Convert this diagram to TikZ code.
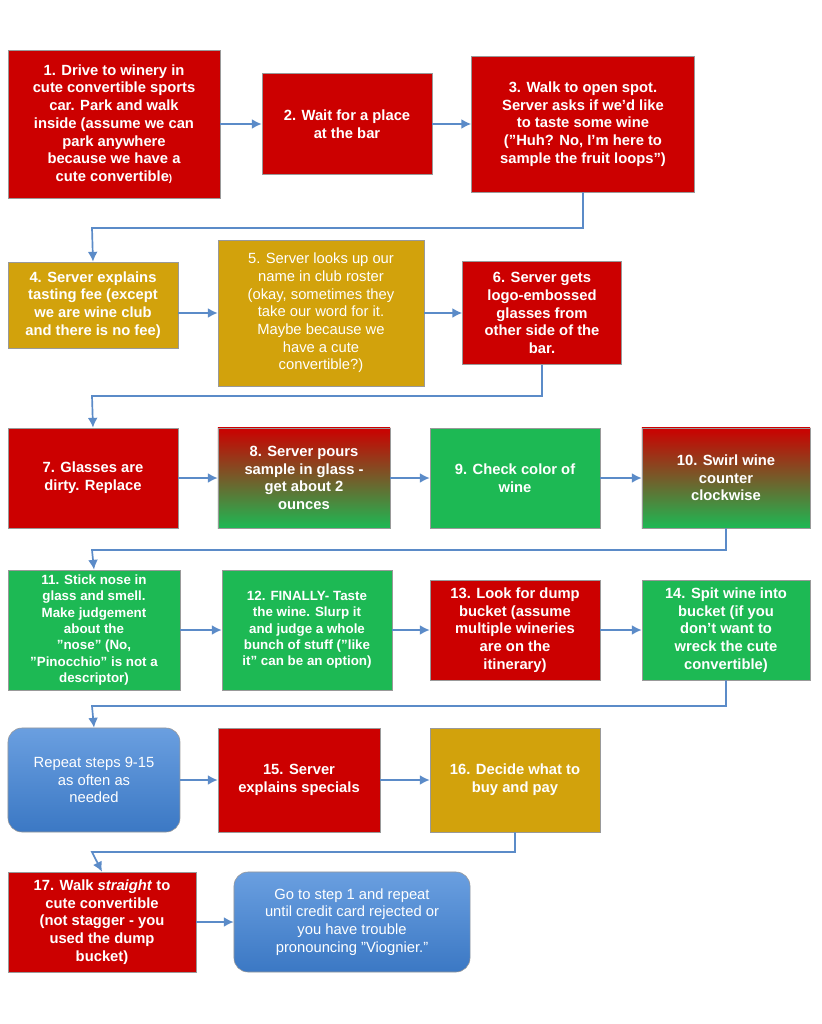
\documentclass[tikz,border=0pt]{standalone}
\usepackage{fontspec}
\setmainfont{Liberation Sans}
\usetikzlibrary{arrows.meta}
\definecolor{wred}{HTML}{CC0000}
\definecolor{wgold}{HTML}{D2A20C}
\definecolor{wgreen}{HTML}{1DB954}
\definecolor{wblue}{HTML}{3B78C4}
\definecolor{wlblue}{HTML}{6A9FE0}
\definecolor{warrow}{HTML}{5B8BC8}
\tikzset{
  box/.style={draw=black!40, thin, text=white, align=center, font=\fontsize{10.5}{12.6}\selectfont\bfseries, inner sep=2pt},
  redbox/.style={box, fill=wred},
  goldbox/.style={box, fill=wgold},
  greenbox/.style={box, fill=wgreen},
  mixbox/.style={box, top color=wred, bottom color=wgreen, middle color=wred!50!wgreen},
  bluebox/.style={box, rounded corners=10pt, top color=wlblue, bottom color=wblue, font=\fontsize{10.5}{12.6}\selectfont},
  flow/.style={draw=warrow, line width=1.2pt, -{Latex[length=7pt,width=7pt]}},
  link/.style={draw=warrow, line width=1.2pt}
}
\begin{document}
\begin{tikzpicture}[x=0.025cm, y=-0.025cm]
\useasboundingbox (0,0) rectangle (821,1024);
\fill[white] (0,0) rectangle (821,1024);

% Row 1
\node[redbox, minimum width=5.3cm, minimum height=3.7cm] (n1) at (114,124)
  {1. Drive to winery in\\cute convertible sports\\car. Park  and walk\\inside (assume we can\\park anywhere\\because we have a\\cute convertible{\scriptsize)}};
\node[redbox, minimum width=4.25cm, minimum height=2.525cm] (n2) at (347,124)
  {2. Wait for a place\\at the bar};
\node[redbox, minimum width=5.575cm, minimum height=3.4cm] (n3) at (583,124)
  {3. Walk to open spot.\\Server asks if we'd like\\to taste some wine\\("Huh? No, I'm here to\\sample the fruit loops")};

% Row 2
\node[goldbox, minimum width=4.25cm, minimum height=2.15cm] (n4) at (93,305)
  {4. Server explains\\tasting fee (except\\we are wine club\\and there is no fee)};
\node[goldbox, font=\fontsize{10.5}{12.6}\selectfont, minimum width=5.15cm, minimum height=3.65cm] (n5) at (321,313)
  {5. Server looks up our\\name in club roster\\(okay, sometimes they\\take our word for it.\\Maybe because we\\have a cute\\convertible?)};
\node[redbox, minimum width=3.975cm, minimum height=2.575cm] (n6) at (542,313)
  {6. Server gets\\logo-embossed\\glasses from\\other side of the\\bar.};

% Row 3
\node[redbox, minimum width=4.25cm, minimum height=2.5cm] (n7) at (93,478)
  {7. Glasses are\\dirty. Replace};
\node[mixbox, minimum width=4.3cm, minimum height=2.5cm] (n8) at (304,478)
  {8. Server pours\\sample in glass -\\get about 2\\ounces};
\node[greenbox, minimum width=4.25cm, minimum height=2.5cm] (n9) at (515,478)
  {9. Check color of\\wine};
\node[mixbox, minimum width=4.2cm, minimum height=2.5cm] (n10) at (726,478)
  {10. Swirl wine\\counter\\clockwise};

% Row 4
\node[greenbox, font=\fontsize{9.5}{11.6}\selectfont\bfseries, minimum width=4.3cm, minimum height=3cm] (n11) at (94,630)
  {11. Stick nose in\\glass and smell.\\Make judgement\\about the\\"nose" (No,\\"Pinocchio" is not a\\descriptor)};
\node[greenbox, font=\fontsize{9.5}{11.6}\selectfont\bfseries, minimum width=4.25cm, minimum height=3cm] (n12) at (307,630)
  {12. FINALLY-  Taste\\the wine. Slurp it\\and judge a whole\\bunch of stuff ("like\\it" can be an option)};
\node[redbox, minimum width=4.25cm, minimum height=2.5cm] (n13) at (515,630)
  {13. Look for dump\\bucket (assume\\multiple wineries\\are on the\\itinerary)};
\node[greenbox, minimum width=4.2cm, minimum height=2.5cm] (n14) at (726,630)
  {14. Spit wine into\\bucket (if you\\don't want to\\wreck the cute\\convertible)};

% Row 5
\node[bluebox, minimum width=4.3cm, minimum height=2.6cm] (nr) at (94,780)
  {Repeat steps 9-15\\as often as\\needed};
\node[redbox, minimum width=4.05cm, minimum height=2.6cm] (n15) at (299,780)
  {15. Server\\explains specials};
\node[goldbox, minimum width=4.25cm, minimum height=2.6cm] (n16) at (515,780)
  {16. Decide what to\\buy and pay};

% Row 6
\node[redbox, minimum width=4.7cm, minimum height=2.5cm] (n17) at (102,922)
  {17. Walk \textit{straight} to\\cute convertible\\(not stagger - you\\used the dump\\bucket)};
\node[bluebox, minimum width=5.9cm, minimum height=2.5cm] (ngo) at (352,922)
  {Go to step 1 and repeat\\until credit card rejected or\\you have trouble\\pronouncing "Viognier."};

% Turn points
\coordinate (j1) at (92,228);
\coordinate (j2) at (92,396);
\coordinate (j3) at (92,550);
\coordinate (j4) at (92,706);
\coordinate (j5) at (92,852);

% Connectors
\draw[flow] (n1.east |- n2) -- (n2);
\draw[flow] (n2) -- (n3.west |- n2);
\draw[flow] (n3.south) |- (j1) -- (n4.north);
\draw[flow] (n4.east |- n5) -- (n5);
\draw[flow] (n5) -- (n6);
\draw[flow] (n6.south) |- (j2) -- (n7.north);
\draw[flow] (n7) -- (n8);
\draw[flow] (n8) -- (n9);
\draw[flow] (n9) -- (n10);
\draw[flow] (n10.south) |- (j3) -- (n11.north);
\draw[flow] (n11) -- (n12);
\draw[flow] (n12) -- (n13);
\draw[flow] (n13) -- (n14);
\draw[flow] (n14.south) |- (j4) -- (nr.north);
\draw[flow] (nr) -- (n15);
\draw[flow] (n15) -- (n16);
\draw[flow] (n16.south) |- (j5) -- (n17.north);
\draw[flow] (n17) -- (ngo);
\end{tikzpicture}
\end{document}
